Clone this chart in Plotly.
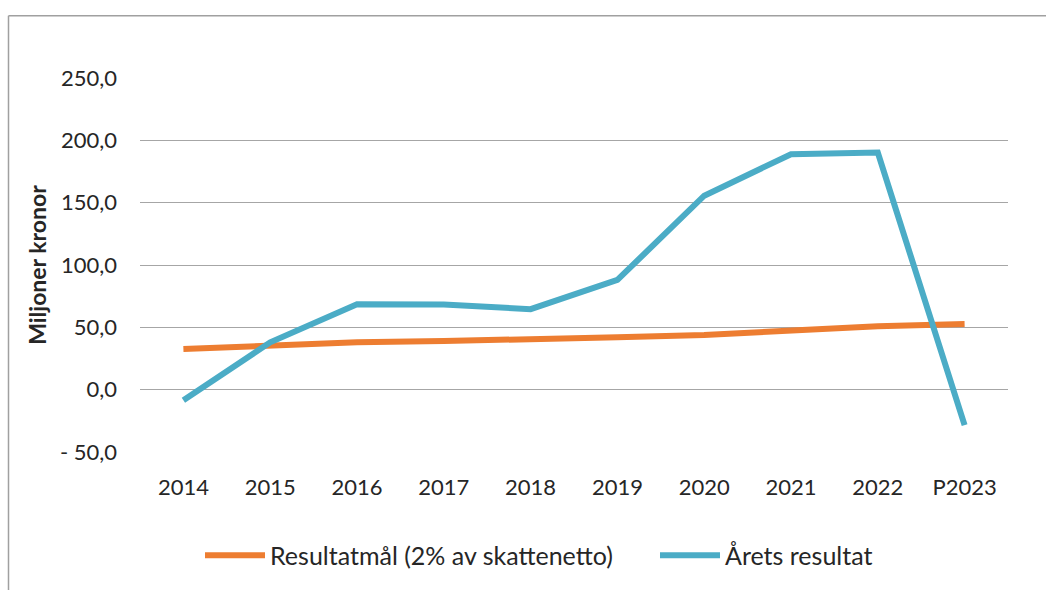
import plotly.graph_objects as go

years = ["2014", "2015", "2016", "2017", "2018", "2019", "2020", "2021", "2022", "P2023"]
resultatmal = [32.7, 35.9, 38.0, 39.0, 40.0, 42.0, 43.9, 47.3, 50.8, 52.7]
arets_resultat = [-8.5, 38.0, 68.6, 68.4, 64.6, 88.0, 155.6, 188.9, 190.2, -28.5]
tick_vals = [-50, 0, 50, 100, 150, 200, 250]
tick_text = ["- 50,0", "0,0", "50,0", "100,0", "150,0", "200,0", "250,0"]

FONT = "Lato"
BORDER = "#A0A0A0"
L, R, T, B = 140, 38, 78, 136
W, H = 1046, 590
PW, PH = W - L - R, H - T - B


def px_x(px):
    return (px - L) / PW


def px_y(py):
    return (H - B - py) / PH


fig = go.Figure()
fig.add_trace(go.Scatter(x=years, y=resultatmal, mode="lines",
                         name="Resultatmål (2% av skattenetto)",
                         line=dict(color="#ED7D31", width=6), legend="legend"))
fig.add_trace(go.Scatter(x=years, y=arets_resultat, mode="lines",
                         name="Årets resultat",
                         line=dict(color="#4BACC6", width=6), legend="legend2"))

legend_common = dict(orientation="h", yanchor="middle", xanchor="left",
                     font=dict(size=25, family=FONT, color="#262626"),
                     itemwidth=60, bgcolor="rgba(0,0,0,0)")

fig.update_layout(
    width=W, height=H,
    margin=dict(l=L, r=R, t=T, b=B),
    paper_bgcolor="white", plot_bgcolor="white",
    font=dict(family=FONT, size=22, color="#262626"),
    showlegend=True,
    legend=dict(x=px_x(200), y=px_y(558), **legend_common),
    legend2=dict(x=px_x(655), y=px_y(558), **legend_common),
    xaxis=dict(type="category", showgrid=False, zeroline=False, showline=False,
               ticks="", tickfont=dict(size=22), range=[-0.5, 9.5],
               ticklabelstandoff=20),
    yaxis=dict(range=[-50, 250], tickvals=tick_vals, ticktext=tick_text,
               showgrid=True, gridcolor="#A6A6A6", gridwidth=1,
               zeroline=True, zerolinecolor="#A6A6A6", zerolinewidth=1,
               showline=False, ticks="", ticklabelstandoff=22,
               tickfont=dict(size=22),
               title=dict(text="<b>Miljoner kronor</b>", font=dict(size=23), standoff=6)),
    shapes=[
        dict(type="line", xref="paper", yref="paper",
             x0=px_x(8.5), x1=px_x(W + 5), y0=px_y(15.5), y1=px_y(15.5),
             line=dict(color=BORDER, width=1.5), layer="below"),
        dict(type="line", xref="paper", yref="paper",
             x0=px_x(8.5), x1=px_x(8.5), y0=px_y(15.5), y1=px_y(H + 5),
             line=dict(color=BORDER, width=1.5), layer="below"),
    ],
)

fig.write_html("out.html", config={"displayModeBar": False},
               post_script="document.body.style.margin='0';document.documentElement.style.overflow='hidden';")
